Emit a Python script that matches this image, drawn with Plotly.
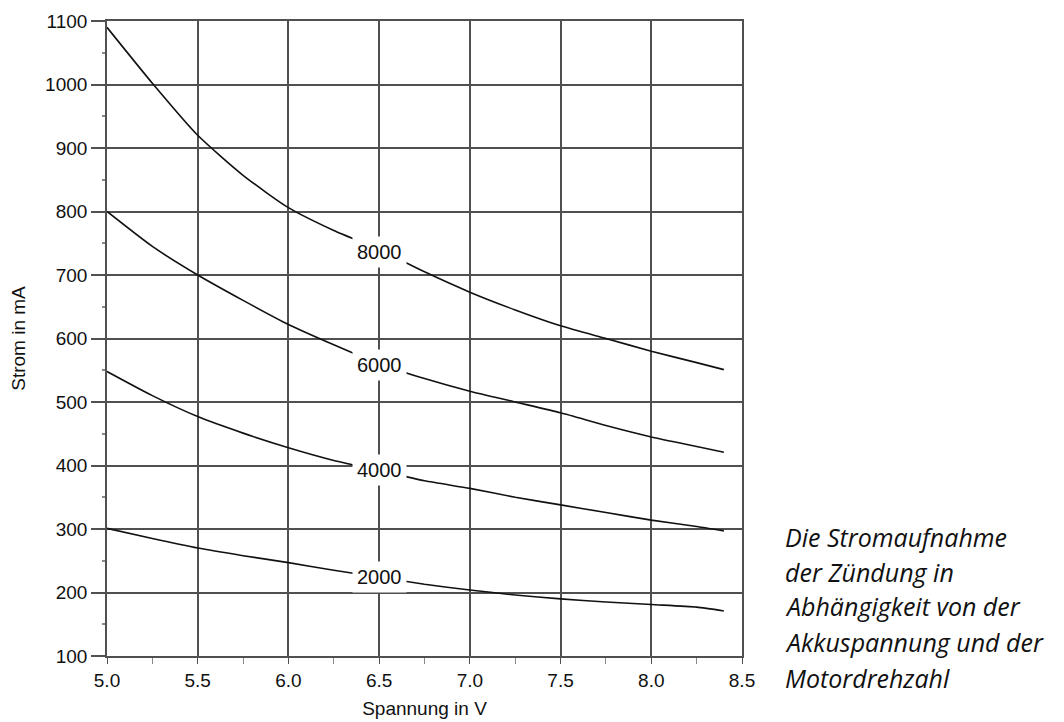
import plotly.graph_objects as go

voltage = [5.0, 5.25, 5.5, 5.75, 6.0, 6.25, 6.5, 6.75, 7.0, 7.25, 7.5, 7.75, 8.0, 8.25, 8.4]
current_8000 = [1090, 1002, 920, 857, 806, 770, 740, 705, 673, 645, 620, 600, 580, 562, 551]
current_6000 = [800, 745, 700, 660, 622, 590, 560, 537, 517, 500, 483, 463, 445, 430, 421]
current_4000 = [548, 510, 477, 451, 428, 408, 392, 376, 364, 350, 338, 326, 314, 304, 297]
current_2000 = [301, 285, 270, 258, 247, 235, 224, 213, 204, 196, 190, 185, 181, 177, 171]
rpm_labels = ["8000", "6000", "4000", "2000"]
label_x = 6.5
label_y = [736, 558, 393, 224]

caption = ["Die Stromaufnahme", "der Zündung in", "Abhängigkeit von der",
           "Akkuspannung und der", "Motordrehzahl"]
caption_y = [0.188, 0.133, 0.078, 0.022, -0.034]

fig = go.Figure()
for ys in [current_8000, current_6000, current_4000, current_2000]:
    fig.add_trace(go.Scatter(x=voltage, y=ys, mode="lines",
                             line=dict(color="#111111", width=1.6, shape="spline", smoothing=0.6),
                             showlegend=False, hoverinfo="skip"))

for t, yv in zip(rpm_labels, label_y):
    fig.add_annotation(x=label_x, y=yv, text=t, showarrow=False,
                       font=dict(family="Liberation Sans, Arial", size=20, color="#111111"),
                       bgcolor="white", borderpad=4)

for line, yp in zip(caption, caption_y):
    fig.add_annotation(xref="paper", yref="paper", x=1.065, y=yp, xanchor="left", yanchor="middle",
                       text=line, align="left", showarrow=False,
                       font=dict(family="Open Sans", size=25, color="#111111", style="italic"))

grid_col = "#505050"
fig.update_layout(
    width=1056, height=714,
    margin=dict(l=99, r=322, t=13, b=66),
    plot_bgcolor="white", paper_bgcolor="white",
    font=dict(family="Liberation Sans, Arial", color="#111111"),
    xaxis=dict(range=[5.0, 8.5], dtick=0.5, tickformat=".1f", showgrid=True, gridcolor=grid_col, gridwidth=1.7,
               ticks="outside", ticklen=6, tickcolor=grid_col, tickwidth=1.2, automargin=False,
               minor=dict(dtick=0.25, ticks="outside", ticklen=6, tickcolor="#888888", showgrid=False),
               showline=True, linecolor=grid_col, linewidth=1.7, mirror=True, zeroline=False,
               tickfont=dict(size=19, color="#111111"),
               title=dict(text="Spannung in V", font=dict(size=19, color="#111111"), standoff=12)),
    yaxis=dict(range=[100, 1100], dtick=100, showgrid=True, gridcolor=grid_col, gridwidth=1.7,
               ticks="outside", ticklen=14, tickcolor=grid_col, tickwidth=1.7, automargin=False,
               minor=dict(dtick=50, ticks="outside", ticklen=3, tickcolor="#888888", showgrid=False),
               showline=True, linecolor=grid_col, linewidth=1.7, mirror=True, zeroline=False,
               tickfont=dict(size=19, color="#111111"),
               title=dict(text="Strom in mA", font=dict(size=19, color="#111111"), standoff=14)),
)

fig.write_html("out.html")
